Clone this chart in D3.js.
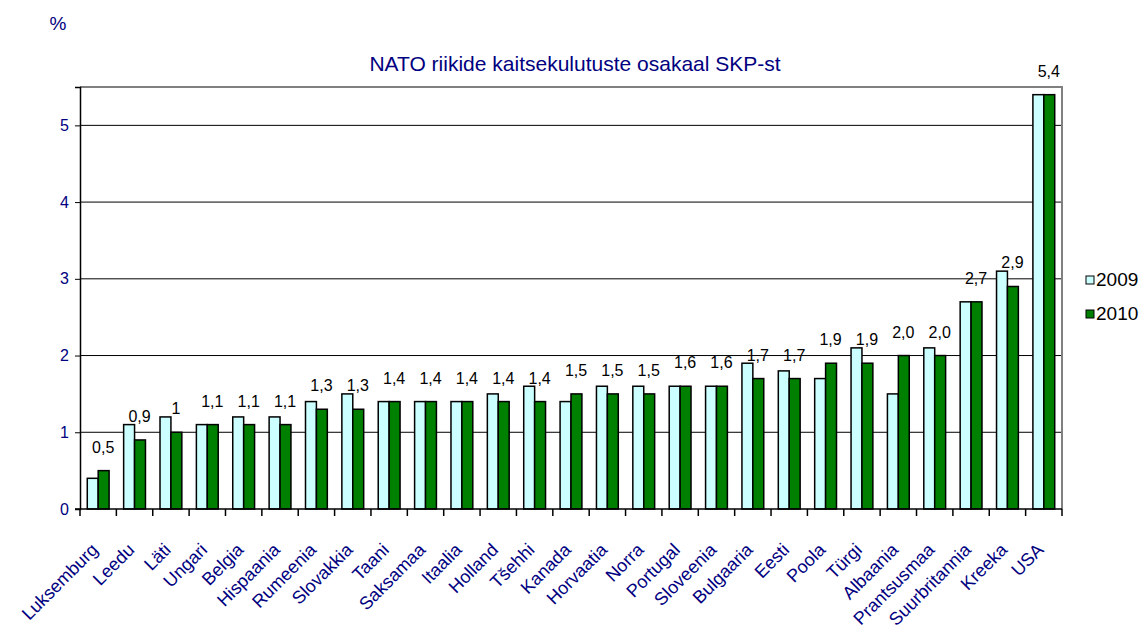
<!DOCTYPE html>
<html>
<head>
<meta charset="utf-8">
<script src="https://cdn.jsdelivr.net/npm/d3@7"></script>
<style>
  body { margin: 0; background: #fff; }
  text { font-family: "Liberation Sans", Arial, sans-serif; }
</style>
</head>
<body>
<svg class="chart"></svg>
<script>
var countries = ["Luksemburg", "Leedu", "Läti", "Ungari", "Belgia", "Hispaania", "Rumeenia",
    "Slovakkia", "Taani", "Saksamaa", "Itaalia", "Holland", "Tšehhi", "Kanada", "Horvaatia",
    "Norra", "Portugal", "Sloveenia", "Bulgaaria", "Eesti", "Poola", "Türgi", "Albaania",
    "Prantsusmaa", "Suurbritannia", "Kreeka", "USA"];
var values2009 = [0.4, 1.1, 1.2, 1.1, 1.2, 1.2, 1.4, 1.5, 1.4, 1.4, 1.4, 1.5, 1.6, 1.4, 1.6,
    1.6, 1.6, 1.6, 1.9, 1.8, 1.7, 2.1, 1.5, 2.1, 2.7, 3.1, 5.4];
var values2010 = [0.5, 0.9, 1.0, 1.1, 1.1, 1.1, 1.3, 1.3, 1.4, 1.4, 1.4, 1.4, 1.4, 1.5, 1.5,
    1.5, 1.6, 1.6, 1.7, 1.7, 1.9, 1.9, 2.0, 2.0, 2.7, 2.9, 5.4];
// value labels shown above each group
var labelValues = [0.5, 0.9, 1, 1.1, 1.1, 1.1, 1.3, 1.3, 1.4, 1.4, 1.4, 1.4, 1.4, 1.5, 1.5,
    1.5, 1.6, 1.6, 1.7, 1.7, 1.9, 1.9, 2.0, 2.0, 2.7, 2.9, 5.4];
var labelTexts = ["0,5", "0,9", "1", "1,1", "1,1", "1,1", "1,3", "1,3", "1,4", "1,4", "1,4",
    "1,4", "1,4", "1,5", "1,5", "1,5", "1,6", "1,6", "1,7", "1,7", "1,9", "1,9", "2,0", "2,0",
    "2,7", "2,9", "5,4"];
var seriesNames = ["2009", "2010"];
var yTicks = [0, 1, 2, 3, 4, 5];

var totalW = 1147, totalH = 639;
var margin = { top: 87, left: 80 },
    width = 1062 - margin.left,
    height = 509 - margin.top;
var colors = { "2009": "#ccffff", "2010": "#008000" };
var navy = "#000080";

var svg = d3.select(".chart")
    .attr("width", totalW)
    .attr("height", totalH);

svg.append("text")
    .attr("x", 58).attr("y", 30)
    .attr("text-anchor", "middle")
    .attr("fill", navy)
    .style("font-size", "19px")
    .text("%");

svg.append("text")
    .attr("x", 575).attr("y", 71)
    .attr("text-anchor", "middle")
    .attr("fill", navy)
    .style("font-size", "21px")
    .text("NATO riikide kaitsekulutuste osakaal SKP-st");

var chart = svg.append("g")
    .attr("transform", "translate(" + margin.left + "," + margin.top + ")");

var x0 = d3.scaleBand().domain(countries).range([0, width])
    .paddingInner(0.4).paddingOuter(0.2);
var x1 = d3.scaleBand().domain(seriesNames).range([0, x0.bandwidth()]);
var y = d3.scaleLinear().domain([0, 5.5]).range([height, 0]);

// gridlines
chart.selectAll("line.grid").data(yTicks.slice(1))
    .enter().append("line")
    .attr("class", "grid")
    .attr("x1", 0).attr("x2", width)
    .attr("y1", function(d) { return y(d); })
    .attr("y2", function(d) { return y(d); })
    .attr("stroke", "#000").attr("stroke-width", 1);

// plot frame (top and right in grey)
chart.append("path")
    .attr("d", "M0,0H" + width + "V" + height)
    .attr("fill", "none")
    .attr("stroke", "#808080")
    .attr("stroke-width", 2);

// bars
var groups = chart.selectAll("g.group").data(countries)
    .enter().append("g")
    .attr("class", "group")
    .attr("transform", function(d) { return "translate(" + x0(d) + ",0)"; });

groups.selectAll("rect")
    .data(function(d, i) {
        return [{ s: "2009", v: values2009[i] }, { s: "2010", v: values2010[i] }];
    })
    .enter().append("rect")
    .attr("x", function(d) { return x1(d.s); })
    .attr("width", x1.bandwidth())
    .attr("y", function(d) { return y(d.v); })
    .attr("height", function(d) { return height - y(d.v); })
    .attr("fill", function(d) { return colors[d.s]; })
    .attr("stroke", "#000")
    .attr("stroke-width", 1.5);

// value labels
chart.selectAll("text.val").data(countries)
    .enter().append("text")
    .attr("class", "val")
    .attr("x", function(d) { return x0(d) + x0.bandwidth() / 2 + 5; })
    .attr("y", function(d, i) { return y(labelValues[i]) - 18; })
    .attr("text-anchor", "middle")
    .attr("fill", "#000")
    .style("font-size", "16px")
    .text(function(d, i) { return labelTexts[i]; });

// y axis
var yAxis = chart.append("g")
    .call(d3.axisLeft(y).tickValues(yTicks).tickSize(5).tickPadding(6)
        .tickFormat(d3.format("d")));
yAxis.select(".domain").attr("stroke", "#000").attr("stroke-width", 1.5);
yAxis.selectAll(".tick line").attr("stroke", "#000");
yAxis.selectAll("text").attr("fill", navy).style("font-size", "16px");

// x axis: ticks on category boundaries
var bounds = d3.range(countries.length + 1).map(function(i) { return i * x0.step(); });
var xAxis = chart.append("g").attr("transform", "translate(0," + height + ")");
xAxis.append("line")
    .attr("x1", -5).attr("x2", width)
    .attr("stroke", "#000").attr("stroke-width", 1.5);
xAxis.selectAll("line.tk").data(bounds)
    .enter().append("line")
    .attr("class", "tk")
    .attr("x1", function(d) { return d; }).attr("x2", function(d) { return d; })
    .attr("y1", 0).attr("y2", 7)
    .attr("stroke", "#000").attr("stroke-width", 1.5);

xAxis.selectAll("text").data(countries)
    .enter().append("text")
    .attr("transform", function(d) {
        return "translate(" + (x0(d) + x0.bandwidth() / 2 + 1) + ",42) rotate(-45)";
    })
    .attr("text-anchor", "end")
    .attr("fill", navy)
    .style("font-size", "18px")
    .text(function(d) { return d; });

// legend
var legend = svg.append("g")
    .attr("transform", "translate(1086,276)");
var items = legend.selectAll("g").data(seriesNames)
    .enter().append("g")
    .attr("transform", function(d, i) { return "translate(0," + i * 34 + ")"; });
items.append("rect")
    .attr("width", 8).attr("height", 8)
    .attr("fill", function(d) { return colors[d]; })
    .attr("stroke", "#000").attr("stroke-width", 1);
items.append("text")
    .attr("x", 10).attr("y", 10)
    .attr("fill", "#000")
    .style("font-size", "19px")
    .text(function(d) { return d; });
</script>
</body>
</html>
